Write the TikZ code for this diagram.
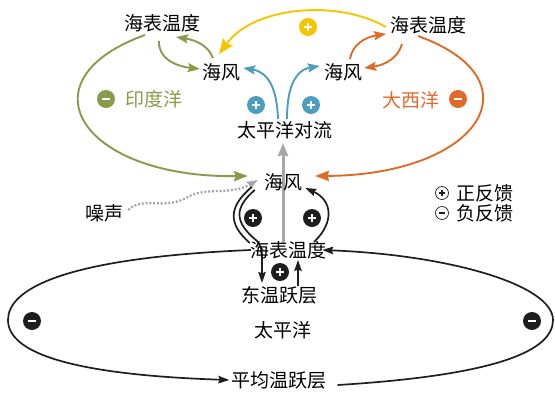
\documentclass[tikz,border=0pt]{standalone}
\usepackage{fontspec}
\newfontfamily\cjk{Noto Sans CJK SC}
\usetikzlibrary{arrows.meta,backgrounds,calc}
\definecolor{cgreen}{RGB}{138,154,75}
\definecolor{corange}{RGB}{224,106,40}
\definecolor{cyellow}{RGB}{247,197,0}
\definecolor{cblue}{RGB}{76,157,192}
\definecolor{cgray}{RGB}{166,166,166}
\definecolor{cblack}{RGB}{30,30,30}
\newcommand{\mkplus}[3]{%
  \node[sgn, fill=#3] (#1) at (#2) {};
  \draw[sgnbar] ([xshift=-3.6pt]#1.center) -- ([xshift=3.6pt]#1.center)
                ([yshift=-3.6pt]#1.center) -- ([yshift=3.6pt]#1.center);}
\newcommand{\mkminus}[3]{%
  \node[sgn, fill=#3] (#1) at (#2) {};
  \draw[sgnbar] ([xshift=-4pt]#1.center) -- ([xshift=4pt]#1.center);}
\begin{document}
\begin{tikzpicture}[x=1pt,y=-1pt,
  lbl/.style={inner sep=1pt,font=\cjk\fontsize{19}{21}\selectfont},
  sgn/.style={circle,minimum size=18pt,inner sep=0pt},
  sgnbar/.style={white,line width=1.5pt},
  lgc/.style={circle,draw=cblack,line width=0.7pt,minimum size=13pt,inner sep=0pt},
  lgbar/.style={cblack,line width=1.1pt},
  carrow/.style={line width=1.9pt,-{Stealth[length=14pt,width=10.5pt,inset=2pt]}},
  sarrow/.style={line width=1.9pt,-{Stealth[length=12pt,width=9pt,inset=2pt]}},
  barrow/.style={cblack,line width=1.7pt,-{Stealth[length=11pt,width=7.5pt,inset=1.5pt]}},
  bline/.style={cblack,line width=1.7pt}]
\useasboundingbox (0,0) rectangle (555,392);

% labels
\node[lbl] (sstL) at (162,23) {海表温度};
\node[lbl] (sstR) at (428,25) {海表温度};
\node[lbl] (windL) at (221,72) {海风};
\node[lbl] (windR) at (343,72) {海风};
\node[lbl] (conv) at (285,130) {太平洋对流};
\node[lbl] (windC) at (283,182) {海风};
\node[lbl] (sstC) at (288,250) {海表温度};
\node[lbl] (thermE) at (279,295) {东温跃层};
\node[lbl] (pac) at (283,330) {太平洋};
\node[lbl] (thermM) at (279,380) {平均温跃层};
\node[lbl] (noise) at (104,213) {噪声};
\node[lbl,text=cgreen] (indian) at (154,99) {印度洋};
\node[lbl,text=corange] (atl) at (411,100) {大西洋};
\node[lbl,anchor=west] (pos) at (455,193) {正反馈};
\node[lbl,anchor=west] (neg) at (455,213) {负反馈};

% signs
\mkminus{mg}{106,99}{cgreen}
\mkminus{mo}{458,99}{corange}
\mkplus{py}{308,27}{cyellow}
\mkplus{pb1}{256,105}{cblue}
\mkplus{pb2}{311,105}{cblue}
\mkplus{pk1}{253,218}{cblack}
\mkplus{pk2}{312,218}{cblack}
\mkplus{pk3}{280,272}{cblack}
\mkminus{mk1}{32,321}{cblack}
\mkminus{mk2}{532,321}{cblack}

% legend
\node[lgc] (lp) at (442,193) {};
\draw[lgbar] ([xshift=-3pt]lp.center) -- ([xshift=3pt]lp.center)
             ([yshift=-3pt]lp.center) -- ([yshift=3pt]lp.center);
\node[lgc] (lm) at (442,213) {};
\draw[lgbar] ([xshift=-3pt]lm.center) -- ([xshift=3pt]lm.center);

\begin{scope}[on background layer]
% green (Indian Ocean)
\draw[sarrow,cgreen] ([shift={(-3,8)}]sstL.south) .. controls (158,58) and (175,66) .. ([shift={(-1,-3)}]windL.west);
\draw[sarrow,cgreen] ([shift={(-8,-4)}]windL.north) .. controls (208,45) and (195,40) .. ([shift={(14,4)}]sstL.south);
\draw[carrow,cgreen] ([shift={(-17,2)}]sstL.south) .. controls (20,80) and (80,178) .. ([shift={(-15,-6)}]windC.west);
% orange (Atlantic)
\draw[sarrow,corange] ([shift={(7,-3)}]windR.north) .. controls (352,45) and (365,37) .. ([shift={(-42,-1)}]sstR.south);
\draw[sarrow,corange] ([shift={(-26,9)}]sstR.south) .. controls (398,58) and (385,65) .. ([shift={(1,-4)}]windR.east);
\draw[carrow,corange] ([shift={(-10,1)}]sstR.south) .. controls (540,80) and (480,175) .. ([shift={(12,-6)}]windC.east);
% yellow
\draw[cyellow,line width=1.9pt,-{Stealth[length=15pt,width=12pt,inset=2pt]}]
  ([shift={(-3,2)}]sstR.west) .. controls (340,0) and (255,5) .. ([shift={(-2,-8)}]windL.north);
% blue (Pacific convection)
\draw[sarrow,cblue] ([shift={(-7,-1)}]conv.north) .. controls (277,88) and (268,72) .. ([shift={(2,-4)}]windL.east);
\draw[sarrow,cblue] ([shift={(2,-1)}]conv.north) .. controls (287,88) and (295,70) .. ([shift={(-3,-6)}]windR.west);
% gray
\draw[cgray,line width=3pt,-{Stealth[length=13pt,width=10pt,inset=1pt]}]
  ([shift={(-5,3)}]sstC.north) -- ([shift={(-2,3)}]conv.south);
\draw[cgray,line width=2.3pt,dash pattern=on 2pt off 1.8pt,-{Stealth[length=11pt,width=8pt,inset=1.5pt]}]
  ([shift={(4,-3)}]noise.east) .. controls (143,196) and (163,210) .. (186,198)
  .. controls (205,186) and (230,196) .. ([shift={(-5,-2)}]windC.west);
% black
\draw[bline] ([shift={(-11,-5)}]windC.south west) .. controls (228,207) and (228,224) .. ([shift={(1,-7)}]sstC.west);
\draw[barrow] ([shift={(-8,-2)}]windC.south west) .. controls (234,208) and (234,222) .. (257,241)
  .. controls (261,245) and (262,252) .. (262,258) -- ([shift={(-17,-2)}]thermE.north);
\draw[barrow] ([shift={(26,2)}]sstC.north) .. controls (335,222) and (332,200) .. ([shift={(2,-4)}]windC.south east);
\draw[barrow] ([shift={(19,1)}]thermE.north) -- ([shift={(10,0)}]sstC.south);
\draw[barrow] ([shift={(2,0)}]sstC.west) .. controls (60,258) and (8,290) .. (8,320)
  .. controls (8,355) and (80,375) .. ([shift={(-1,0)}]thermM.west);
\draw[barrow] ([shift={(10,5)}]thermM.east) .. controls (500,375) and (553,350) .. (553,320)
  .. controls (553,285) and (450,255) .. ([shift={(-5,0)}]sstC.east);
\end{scope}
\end{tikzpicture}
\end{document}
